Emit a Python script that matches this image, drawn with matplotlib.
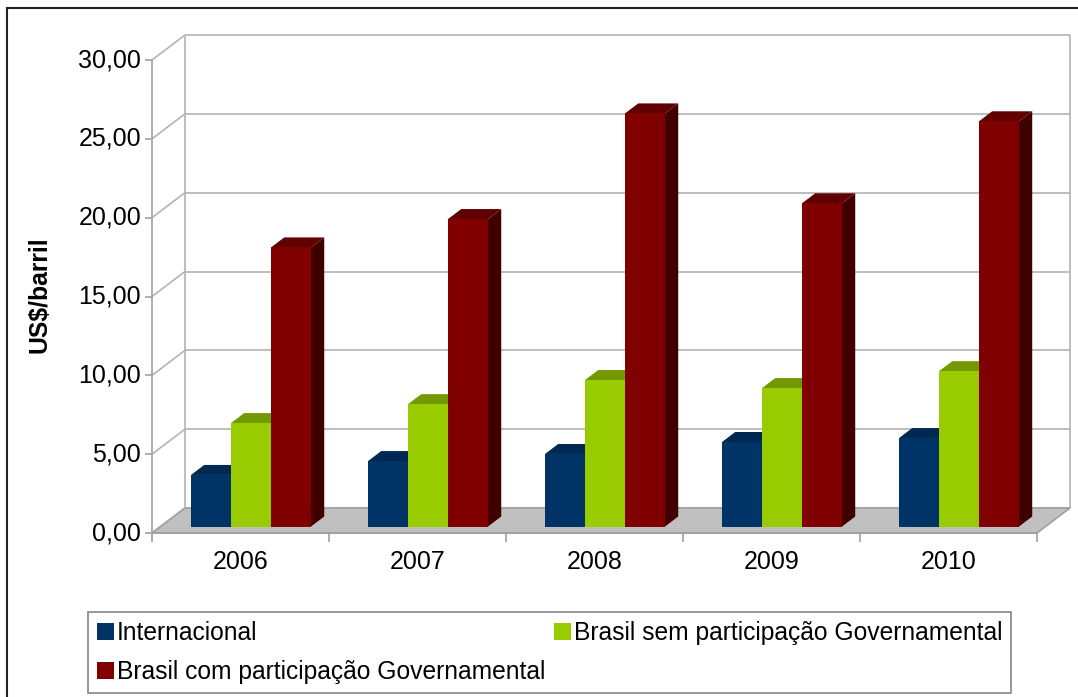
import matplotlib
matplotlib.use("Agg")
import matplotlib.pyplot as plt
from matplotlib.patches import Polygon, Rectangle, Patch

plt.rcParams['font.family'] = ['Liberation Sans', 'DejaVu Sans']

# data
anos = ['2006', '2007', '2008', '2009', '2010']
internacional = [3.27, 4.15, 4.60, 5.36, 5.61]
brasil_sem = [6.56, 7.76, 9.29, 8.78, 9.85]
brasil_com = [17.70, 19.50, 26.20, 20.50, 25.70]
yticks = [0, 5, 10, 15, 20, 25, 30]
ytick_labels = ['0,00', '5,00', '10,00', '15,00', '20,00', '25,00', '30,00']

series = [
    ('Internacional', internacional, '#003366', '#002850', '#001a33'),
    ('Brasil sem participação Governamental', brasil_sem, '#99cc00', '#739900', '#4d6600'),
    ('Brasil com participação Governamental', brasil_com, '#800000', '#600000', '#400000'),
]

W, H = 1078, 697
fig = plt.figure(figsize=(W / 100, H / 100), dpi=100)

# front box of the pseudo 3d chart, in pixels
left, right, top, bottom = 152, 1037, 60, 533
ax = fig.add_axes([left / W, (H - bottom) / H, (right - left) / W, (bottom - top) / H])
n = len(anos)
ax.set_xlim(0, n)
ax.set_ylim(0, 30)
ax.axis('off')

px = n / (right - left)     # one pixel in x data units
py = 30 / (bottom - top)    # one pixel in y data units
DX, DY = 33 * px, 25 * py   # depth of the box
grid_c = '#b3b3b3'
axis_c = '#a0a0a0'

def line(xs, ys, c=grid_c, lw=1.2, z=1):
    ax.plot(xs, ys, color=c, lw=lw, clip_on=False, zorder=z, solid_capstyle='butt')

# back wall and side wall
for v in yticks:
    line([DX, n + DX], [v + DY, v + DY])
    line([0, DX], [v, v + DY])
    line([-7 * px, 0], [v, v], c=axis_c)
line([DX, DX], [DY, 30 + DY])
line([n + DX, n + DX], [DY, 30 + DY])
line([0, 0], [0, 30], c=axis_c)

# floor
floor = Polygon([(0, 0), (n, 0), (n + DX, DY), (DX, DY)], closed=True,
                facecolor='#c0c0c0', edgecolor=axis_c, lw=1.2, clip_on=False, zorder=2)
ax.add_patch(floor)
line([0, n], [0, 0], c=axis_c, z=3)
for j in range(n + 1):
    line([j, j], [0, -9 * py], c=axis_c, z=3)

# bars
w = 40 * px
gap = 0.172
z0, z1 = 0.26, 0.66
zo = 5
for j in range(n):
    for i, (name, vals, front, topc, side) in enumerate(series):
        h = vals[j]
        xl = j + gap + i * w
        xr = xl + w
        ax0, ay0 = z0 * DX, z0 * DY
        ax1, ay1 = z1 * DX, z1 * DY
        ax.add_patch(Polygon([(xr + ax0, ay0), (xr + ax1, ay1), (xr + ax1, h + ay1), (xr + ax0, h + ay0)],
                             closed=True, facecolor=side, edgecolor='none', clip_on=False, zorder=zo))
        ax.add_patch(Polygon([(xl + ax0, h + ay0), (xr + ax0, h + ay0), (xr + ax1, h + ay1), (xl + ax1, h + ay1)],
                             closed=True, facecolor=topc, edgecolor='none', clip_on=False, zorder=zo))
        ax.add_patch(Rectangle((xl + ax0, ay0), w, h, facecolor=front, edgecolor='none',
                               clip_on=False, zorder=zo))
        zo += 1

# tick labels
for v, lab in zip(yticks, ytick_labels):
    ax.text(-11 * px, v, lab, ha='right', va='center', fontsize=18, color='black')
for j, a in enumerate(anos):
    ax.text(j + 0.5, -29 * py, a, ha='center', va='center', fontsize=18, color='black')

fig.text(40 / W, 1 - 295 / H, 'US$/barril', rotation=90, ha='center', va='center',
         fontsize=17.8, fontweight='bold')

# legend
handles = [Patch(facecolor=series[0][2]), Patch(facecolor=series[2][2]), Patch(facecolor=series[1][2])]
labels = [series[0][0], series[2][0], series[1][0]]
leg = fig.legend(handles, labels, loc='upper left', bbox_to_anchor=(88 / W, 1 - 612 / H),
                 ncol=2, fontsize=17.7, frameon=True, fancybox=False, edgecolor='#666666',
                 handlelength=0.68, handleheight=0.68, handletextpad=0.12,
                 columnspacing=0.38, labelspacing=0.62, borderpad=0.36, borderaxespad=0)
leg.get_frame().set_linewidth(1.2)

# outer border
fig.patches.append(Rectangle((7 / W, -0.05), 1.2, 1 - 8 / H + 0.05, transform=fig.transFigure,
                             fill=False, edgecolor='#222222', lw=1.5))

fig.savefig('out.png', dpi=100)
